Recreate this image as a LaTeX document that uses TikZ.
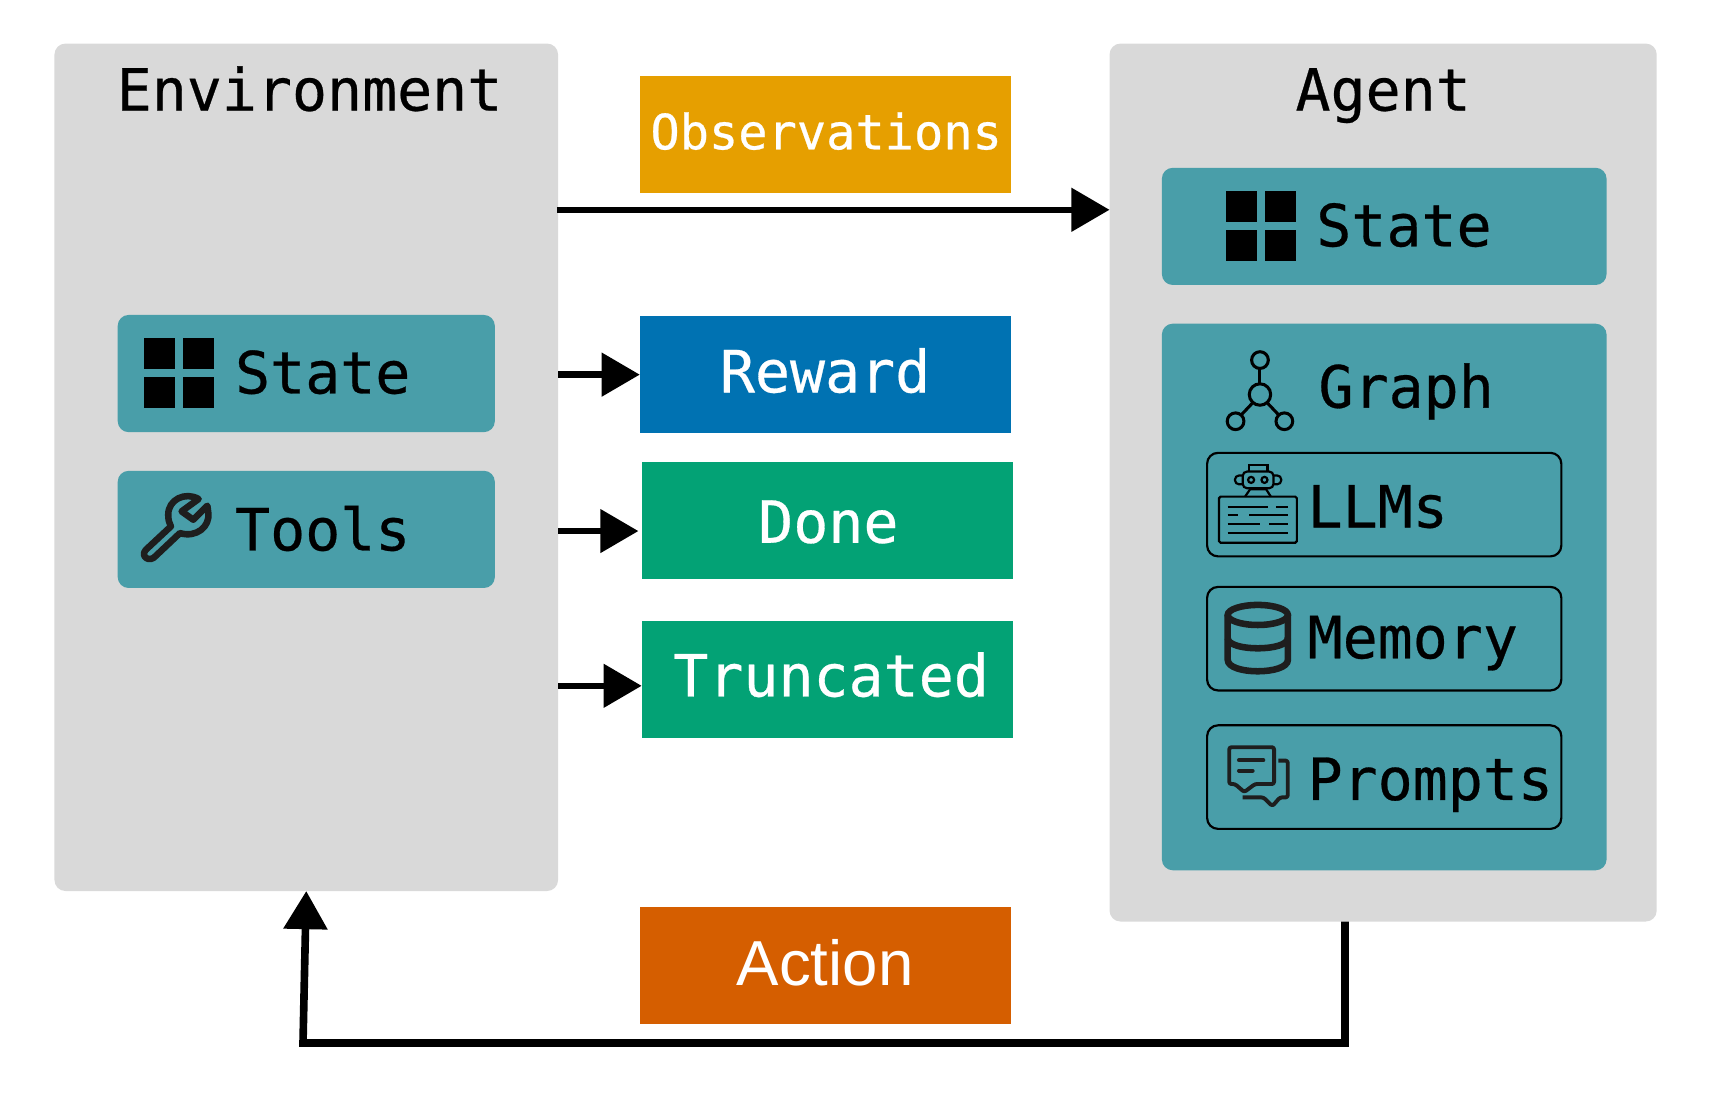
\documentclass[tikz,border=0pt]{standalone}
\usepackage{fontspec}
\usetikzlibrary{arrows.meta, calc}
\newfontfamily\labelfont[RawFeature={embolden=0.5}]{DejaVu Sans Mono}
\newfontfamily\actionfont{Liberation Sans}
\definecolor{panelgray}{HTML}{D9D9D9}
\definecolor{tealbox}{HTML}{499EA9}
\definecolor{obsorange}{HTML}{E69F00}
\definecolor{rewardblue}{HTML}{0072B2}
\definecolor{doneteal}{HTML}{03A275}
\definecolor{actionred}{HTML}{D55E00}
\definecolor{icondark}{HTML}{1E1E1E}
\tikzset{>={Triangle[length=0.35cm,width=0.39cm]}}
\tikzset{
    panel/.style={fill=panelgray, rounded corners=0.1cm, inner sep=0, outer sep=0},
    innerbox/.style={fill=tealbox, rounded corners=0.1cm, inner sep=0, outer sep=0},
    subbox/.style={draw=black, line width=0.02cm, rounded corners=0.1cm, inner sep=0, outer sep=0,
        minimum width=3.25cm, minimum height=0.95cm},
    signal/.style={inner sep=0, outer sep=0, minimum width=3.405cm, minimum height=1.075cm},
    blacktext/.style={font=\labelfont\fontsize{15.2}{18}\selectfont, text=black, inner sep=0, anchor=base west},
    headtext/.style={font=\labelfont\fontsize{15.2}{18}\selectfont, text=black, inner sep=0, anchor=base},
    whitetext/.style={font=\labelfont\fontsize{15.2}{18}\selectfont, text=white, inner sep=0, anchor=base},
    flow/.style={->, line width=0.06cm},
    iconunits/.style={x=0.00306cm, y=-0.00306cm},
    gridicon/.pic={
        \begin{scope}[iconunits]
            \foreach \i in {-105,12}
                \foreach \j in {-105,12}
                    \fill (\i,\j) rectangle ++(93,93);
        \end{scope}
    },
    wrenchicon/.pic={
        \begin{scope}[iconunits]
            \draw[icondark, line width=0.06cm, line join=round]
                (66,-82) .. controls (25,-105) and (-25,-80) .. (-25,-35)
                .. controls (-25,-20) and (-22,-10) .. (-17,0) -- (-92,70)
                .. controls (-110,90) and (-80,110) .. (-62,88) -- (10,20)
                .. controls (60,35) and (100,0) .. (95,-40)
                .. controls (94,-50) and (93,-55) .. (92,-62)
                -- (50,-20) -- (15,-45) -- cycle;
        \end{scope}
    },
    graphicon/.pic={
        \begin{scope}[iconunits, line width=0.028cm]
            \draw (0,13) circle [radius=32];
            \draw (0,-90) circle [radius=25];
            \draw (-73,93) circle [radius=25];
            \draw (73,93) circle [radius=25];
            \draw (0,-65)--(0,-19);
            \draw (-21,37)--(-56,74);
            \draw (21,37)--(56,74);
        \end{scope}
    },
    robotmark/.pic={
        \begin{scope}[iconunits, line width=0.02cm]
            %screen and its text lines
            \draw[rounded corners=0.015cm] (-116,-22) rectangle (117,116);
            \draw (-90,8)--(30,8) (54,8)--(91,8);
            \draw (-90,34)--(-58,34) (-26,34)--(91,34);
            \draw (-90,60)--(7,60) (35,60)--(91,60);
            \draw (-90,86)--(91,86);
            %robot on top
            \draw[rounded corners=0.04cm] (-45,-97) rectangle (47,-47);
            \draw (-27,-97)--(-27,-117)--(29,-117)--(29,-97);
            \draw[rounded corners=0.035cm] (-45,-85)--(-68,-85)--(-68,-59)--(-45,-59);
            \draw[rounded corners=0.035cm] (47,-85)--(70,-85)--(70,-59)--(47,-59);
            \draw (-20,-72) circle [radius=9];
            \draw (20,-72) circle [radius=9];
            \draw (-38,-22)--(-23,-44)--(25,-44)--(39,-22);
        \end{scope}
    },
    dbicon/.pic={
        \begin{scope}[iconunits, icondark, line width=0.06cm]
            \draw (0,-69) ellipse [x radius=90, y radius=30];
            \draw (-90,0) .. controls (-90,41) and (90,41) .. (90,0);
            \draw (-90,-69) -- (-90,65) .. controls (-90,111) and (90,111) .. (90,65) -- (90,-69);
        \end{scope}
    },
    chaticon/.pic={
        \begin{scope}[iconunits, icondark, line width=0.036cm, line join=round]
            \draw[rounded corners=0.02cm] (-87,-88) -- (47,-88) -- (47,22) -- (-10,22) -- (-42,46) -- (-70,22) -- (-87,22) -- cycle;
            \draw[line cap=round] (-58,-49)--(15,-49);
            \draw[line cap=round] (-58,-18)--(-17,-18);
            \draw[rounded corners=0.02cm] (60,-48)--(88,-48)--(88,62)--(65,62)--(42,88)--(15,62)--(-47,62);
        \end{scope}
    }
}

\begin{document}
\begin{tikzpicture}
    \useasboundingbox (0,0) rectangle (15.68,10.14);

    %the two big panels
    \node[panel, minimum width=4.62cm, minimum height=7.775cm] (env) at (2.81,5.8525) {};
    \node[panel, minimum width=5.02cm, minimum height=8.055cm] (agent) at (12.69,5.7125) {};
    \node[headtext] (envtitle) at (2.84,9.125) {Environment};
    \node[headtext] (agenttitle) at (12.69,9.125) {Agent};

    %environment content
    \node[innerbox, minimum width=3.46cm, minimum height=1.075cm] (envstate) at (2.81,6.7125) {};
    \node[innerbox, minimum width=3.46cm, minimum height=1.075cm] (envtools) at (2.81,5.2825) {};
    \pic at (1.64,6.715) {gridicon};
    \pic at (1.62,5.31) {wrenchicon};
    \node[blacktext] (envstatetext) at (2.15,6.53) {State};
    \node[blacktext] (envtoolstext) at (2.15,5.09) {Tools};

    %agent content
    \node[innerbox, minimum width=4.08cm, minimum height=1.075cm] (agentstate) at (12.7,8.0625) {};
    \node[innerbox, minimum width=4.08cm, minimum height=5.015cm] (graph) at (12.7,4.6625) {};
    \pic at (11.57,8.065) {gridicon};
    \pic at (11.56,6.56) {graphicon};
    \node[blacktext] (agentstatetext) at (12.07,7.88) {State};
    \node[blacktext] (graphtext) at (12.09,6.40) {Graph};

    \node[subbox] (llms) at (12.7,5.51) {};
    \node[subbox] (memory) at (12.7,4.28) {};
    \node[subbox] (prompts) at (12.7,3.01) {};
    \pic at (11.54,5.516) {robotmark};
    \pic at (11.54,4.286) {dbicon};
    \pic at (11.545,3.014) {chaticon};
    \node[blacktext] (llmstext) at (11.99,5.30) {LLMs};
    \node[blacktext] (memorytext) at (11.99,4.10) {Memory};
    \node[blacktext] (promptstext) at (11.99,2.80) {Prompts};

    %signals in the middle
    \node[signal, fill=obsorange] (obs) at (7.5725,8.9025) {};
    \node[signal, fill=rewardblue] (reward) at (7.5725,6.7025) {};
    \node[signal, fill=doneteal] (done) at (7.59,5.3625) {};
    \node[signal, fill=doneteal] (truncated) at (7.59,3.9025) {};
    \node[signal, fill=actionred] (action) at (7.5725,1.2825) {};
    \node[whitetext, font=\labelfont\fontsize{12.7}{15}\selectfont] (obstext) at (7.58,8.77) {Observations};
    \node[whitetext] (rewardtext) at (7.57,6.54) {Reward};
    \node[whitetext] (donetext) at (7.6,5.16) {Done};
    \node[whitetext] (truncatedtext) at (7.625,3.75) {Truncated};
    \node[whitetext, font=\actionfont\fontsize{16.6}{20}\selectfont] (actiontext) at (7.57,1.10) {Action};

    %arrows
    \coordinate (obsout) at (5.11,8.215);
    \coordinate (actionturn) at (2.78,0.57);
    \draw[flow] (obsout) -- (obsout -| agent.west);
    \draw[flow] (reward.west -| env.east) -- (reward.west);
    \draw[flow] ($(done.west -| env.east)+(0,-0.095)$) -- ($(done.west)+(-0.03,-0.095)$);
    \draw[flow] ($(truncated.west -| env.east)+(0,-0.055)$) -- ($(truncated.west)+(0,-0.055)$);
    \draw[flow, line width=0.07cm] ($(agent.south)+(-0.35,0)$) |- (actionturn) -- (env.south);
\end{tikzpicture}
\end{document}
